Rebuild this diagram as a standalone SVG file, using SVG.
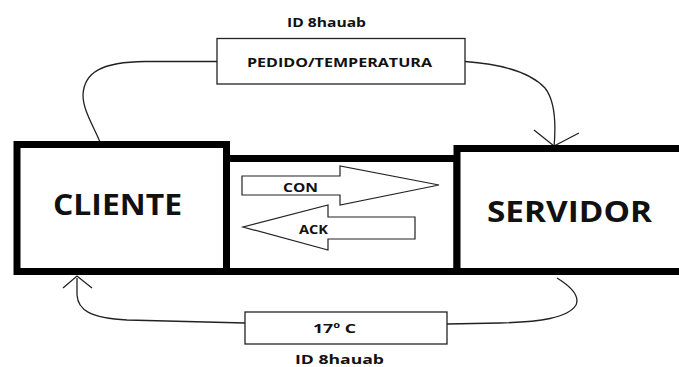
<svg xmlns="http://www.w3.org/2000/svg" width="679" height="367" viewBox="0 0 679 367">
  <style>
    .box { fill: #fff; stroke: #000; stroke-width: 7; }
    .lbl { fill: #fff; stroke: #222; stroke-width: 1.3; }
    .arr { fill: #fff; stroke: #222; stroke-width: 1.2; stroke-linejoin: miter; }
    .con { fill: none; stroke: #222; stroke-width: 1.3; }
    .big { font-family: "Open Sans", "Liberation Sans", sans-serif; font-weight: bold; font-size: 28px; fill: #111; }
    .sm { font-family: "Open Sans", "Liberation Sans", sans-serif; font-weight: bold; font-size: 13px; fill: #111; }
  </style>
  <rect width="679" height="367" fill="#fff"/>

  <g id="connectors">
    <path class="con" d="M217,61.5 L145,61.5 C102,62 84,72 83,95 C83,110 93,125 100,142"/>
    <path class="con" d="M465,61.5 C500,64 530,72 545,88 C556,102 556,125 554,147"/>
    <path class="con" d="M534,130 L554,146 L579,133"/>
    <path class="con" d="M447,324 L500,323 C540,322 568,318 576,305 C580,296 570,286 557,278"/>
    <path class="con" d="M245,323 L127,320 C90,318 78,310 77,295 L77,278"/>
    <path class="con" d="M63,288 L77,276 L92,288"/>
  </g>

  <g id="middle">
    <rect class="box" x="226" y="158.5" width="231" height="113" stroke-width="6"/>
  </g>

  <g id="cliente">
    <rect class="box" x="17" y="144.5" width="209.5" height="127"/>
    <text class="big" x="117.5" y="215" text-anchor="middle" textLength="129" lengthAdjust="spacingAndGlyphs">CLIENTE</text>
  </g>

  <g id="servidor">
    <path class="box" d="M683,148.5 H457 V271.5 H683"/>
    <text class="big" x="569.5" y="222" text-anchor="middle" textLength="165" lengthAdjust="spacingAndGlyphs">SERVIDOR</text>
  </g>

  <g id="con-arrow">
    <path class="arr" d="M242,176 H340 V166 L439,185 L340,205 V195 H242 Z"/>
    <text class="sm" x="300.5" y="192" text-anchor="middle" textLength="35" lengthAdjust="spacingAndGlyphs">CON</text>
  </g>

  <g id="ack-arrow">
    <path class="arr" d="M415,217 H328 V205 L243,227 L328,250 V239 H415 Z"/>
    <text class="sm" x="313.5" y="234" text-anchor="middle" textLength="29" lengthAdjust="spacingAndGlyphs">ACK</text>
  </g>

  <g id="pedido">
    <text class="sm" x="326.5" y="27" text-anchor="middle" textLength="79" lengthAdjust="spacingAndGlyphs">ID 8hauab</text>
    <rect class="lbl" x="217" y="38.5" width="248" height="45.5"/>
    <text class="sm" x="339.5" y="66.5" text-anchor="middle" textLength="185" lengthAdjust="spacingAndGlyphs">PEDIDO/TEMPERATURA</text>
  </g>

  <g id="resposta">
    <rect class="lbl" x="245" y="312" width="202" height="32"/>
    <text class="sm" x="334.5" y="333" text-anchor="middle" textLength="43" lengthAdjust="spacingAndGlyphs">17º C</text>
    <text class="sm" x="339.5" y="364" text-anchor="middle" textLength="89" lengthAdjust="spacingAndGlyphs">ID 8hauab</text>
  </g>
</svg>
